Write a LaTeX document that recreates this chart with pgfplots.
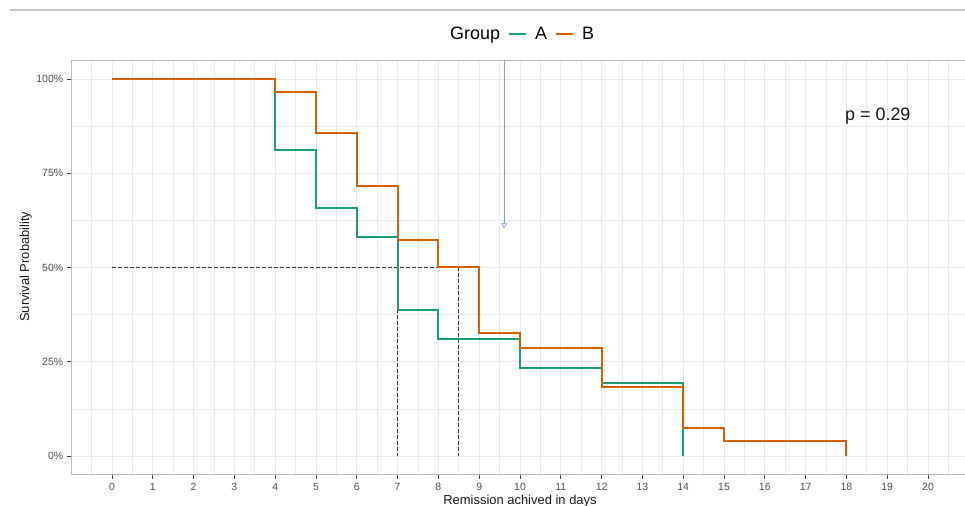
\documentclass[border=0pt]{standalone}
\usepackage{pgfplots}
\pgfplotsset{compat=1.18}
\usepackage{fontspec}
\setmainfont{Liberation Sans}
\usetikzlibrary{arrows.meta}
\definecolor{grpA}{HTML}{1B9E77}
\definecolor{grpB}{HTML}{D95F02}
\definecolor{arrowblue}{HTML}{7B98DC}
\begin{document}
\begin{tikzpicture}
\useasboundingbox (0,0) rectangle (965bp,506bp);
\draw[color=black!22, line width=1.3bp] (10bp,496bp) -- (965bp,496bp);
\begin{axis}[
  at={(71.2bp,31.15bp)}, anchor=south west,
  scale only axis, width=897.6bp, height=414.7bp,
  xmin=-1, xmax=21, ymin=-0.05, ymax=1.05,
  xtick={0,1,...,20},
  minor xtick={-0.5,0.5,...,20.5},
  ytick={0,0.25,0.5,0.75,1},
  yticklabels={0\%,25\%,50\%,75\%,100\%},
  minor ytick={0.125,0.375,0.625,0.875},
  grid=both,
  major grid style={color=gray!17, line width=0.9bp},
  minor grid style={color=gray!17, line width=0.7bp},
  axis line style={color=black!28, line width=1bp},
  xtick pos=left, ytick pos=left,
  tick align=outside,
  major tick length=4.5bp, minor tick length=0pt,
  tick style={color=black!75, line width=0.8bp},
  ticklabel style={font=\fontsize{10.5}{12}\selectfont, text=black!70},
  /pgf/number format/assume math mode=true,
  xlabel={Remission achived in days},
  ylabel={Survival Probability},
  label style={font=\fontsize{13}{15}\selectfont, text=black!90},
  xlabel style={at={(axis description cs:0.5,-0.0703)}, anchor=base},
  ylabel style={at={(axis description cs:-0.047,0.502)}, anchor=base},
  legend style={at={(axis description cs:0.499,1.063)}, anchor=center,
    draw=none, fill=none, font=\fontsize{18}{20}\selectfont,
    /tikz/column sep=6bp},
  legend columns=-1,
  legend image code/.code={\draw[#1] (0bp,0bp) -- (17bp,0bp);},
]
\addlegendimage{empty legend}
\addlegendentry{Group}

% median lines
\addplot[black!80, line width=0.7bp, dash pattern=on 3.5bp off 2.5bp, forget plot]
  coordinates {(0,0.5) (8.5,0.5)};
\addplot[black!80, line width=0.7bp, dash pattern=on 3.5bp off 2.5bp, forget plot]
  coordinates {(7,0.5) (7,0)};
\addplot[black!80, line width=0.7bp, dash pattern=on 3.5bp off 2.5bp, forget plot]
  coordinates {(8.5,0.5) (8.5,0)};

% Group A
\addplot[grpA, line width=2bp, const plot, mark=none]
  coordinates {(0,1) (4,0.812) (5,0.657) (6,0.580) (7,0.386) (8,0.310)
               (10,0.234) (12,0.194) (14,0) };
\addlegendentry{A}

% Group B
\addplot[grpB, line width=2bp, const plot, mark=none]
  coordinates {(0,1) (4,0.966) (5,0.858) (6,0.716) (7,0.573) (8,0.5)
               (9,0.326) (10,0.287) (12,0.182) (14,0.075) (15,0.041) (18,0)};
\addlegendentry{B}

% annotation arrow
\addplot[arrowblue, line width=0.7bp, -{Triangle[open, length=5bp, width=6bp]}, forget plot]
  coordinates {(9.61,1.05) (9.61,0.604)};

\node[anchor=base, font=\fontsize{18}{20}\selectfont, text=black!90] at (axis cs:18.77,0.889) {p = 0.29};
\end{axis}
\end{tikzpicture}
\end{document}
